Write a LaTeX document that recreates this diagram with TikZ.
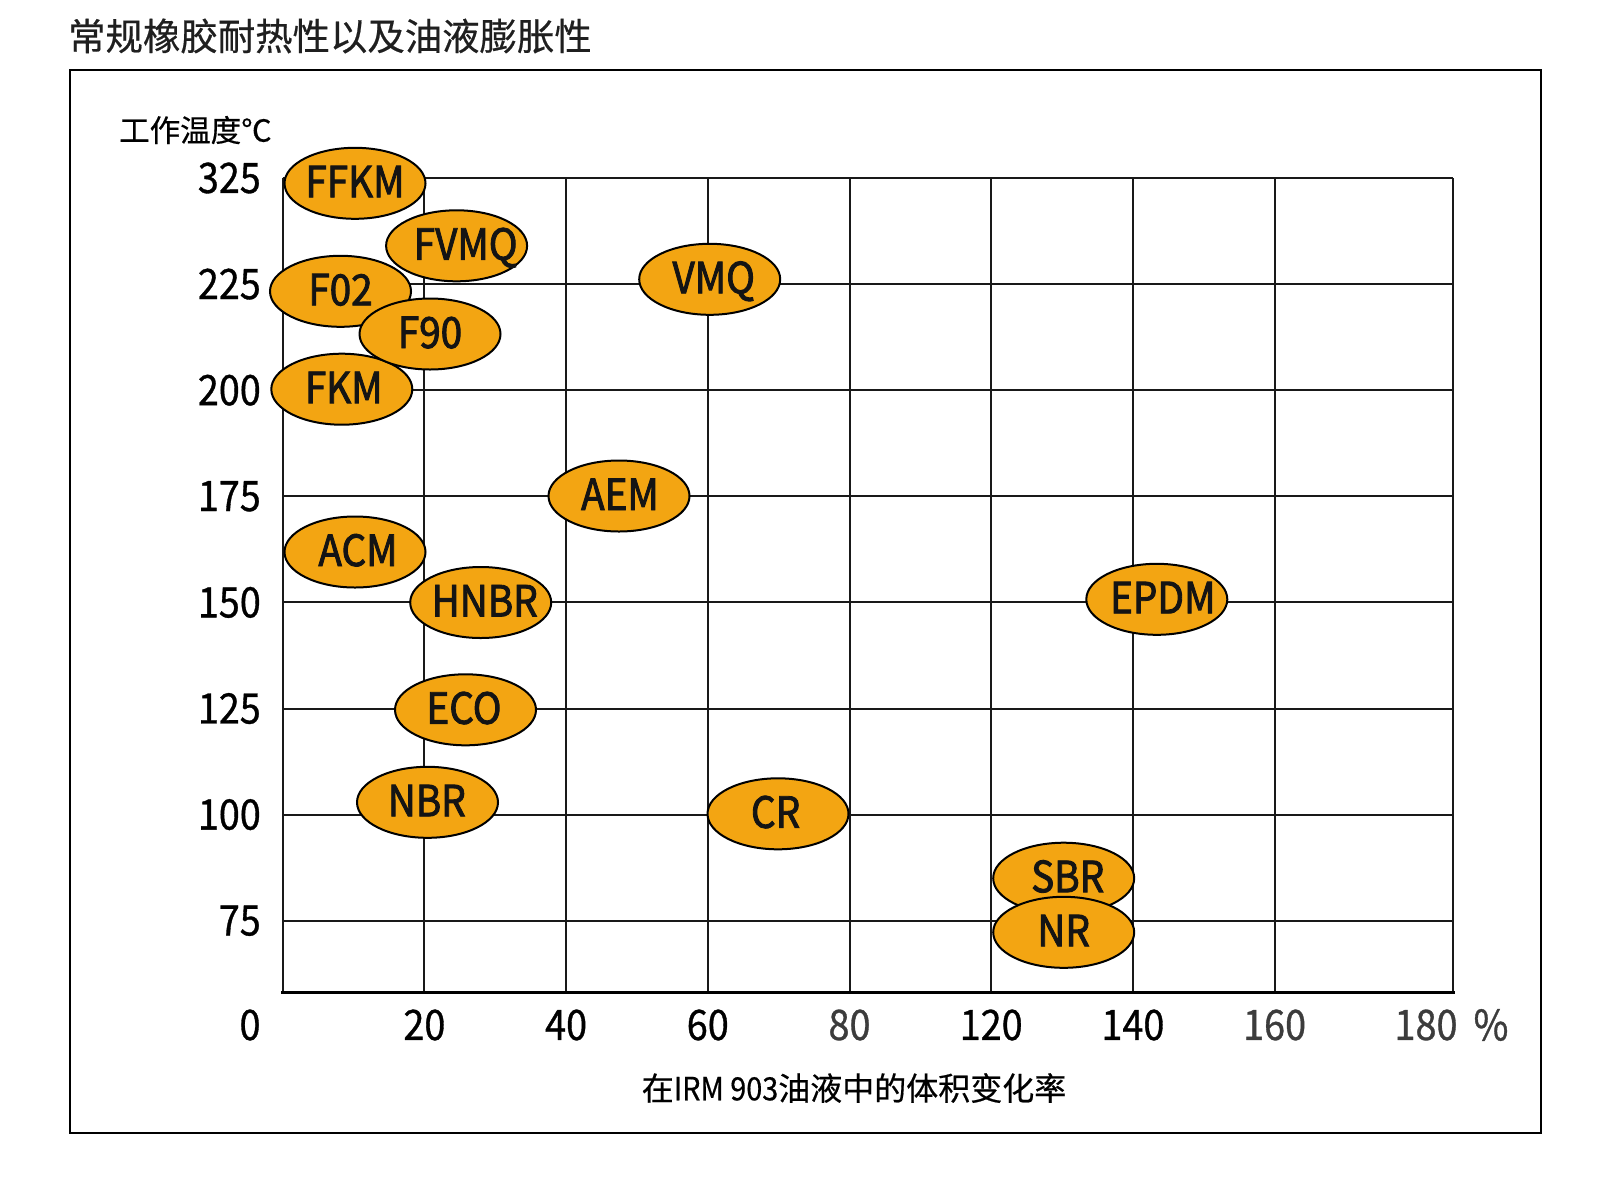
\documentclass[tikz,border=0pt]{standalone}
\usepackage{fontspec}
\setmainfont{Noto Sans CJK SC}
\newfontfamily\latn[FakeStretch=0.9,FakeBold=0.8]{Noto Sans CJK SC}
\newfontfamily\latb[FakeStretch=0.9,FakeBold=2]{Noto Sans CJK SC}
\newfontfamily\latx[FakeStretch=0.9,FakeBold=0.5]{Noto Sans CJK SC}
\newfontfamily\cjkb[FakeBold=0.5]{Noto Sans CJK SC}
\usetikzlibrary{shapes.geometric}
\definecolor{rubfill}{HTML}{F3A512}
\definecolor{tickgrey}{HTML}{3C3C3C}
\tikzset{
  rub/.style={ellipse, draw=black, line width=2pt, fill=rubfill,
    minimum width=141pt, minimum height=71pt, inner sep=0pt},
  rubtext/.style={inner sep=0pt, font=\latb\fontsize{43}{50}\selectfont, text=black!92},
  ticky/.style={anchor=east, inner sep=0pt, font=\latn\fontsize{42}{48}\selectfont},
  tickx/.style={anchor=center, inner sep=0pt, font=\latn\fontsize{42}{48}\selectfont},
  gridline/.style={line width=2pt, black!90},
}
\newcommand\rubber[5]{%
  \node[rub] (#1) at (#2,#3) {};
  \node[rubtext, anchor=base] (#1-t) at ([xshift=#5pt,yshift=-14pt]#1.center) {#4};
}
\begin{document}
\begin{tikzpicture}[x=1pt,y=-1pt]
\useasboundingbox (0,0) rectangle (1600,1200);
\fill[white] (0,0) rectangle (1600,1200);
% title
\node[anchor=west, inner sep=0pt, font=\cjkb\fontsize{37.4}{44}\selectfont, text=black!88] (title) at (68,36) {常规橡胶耐热性以及油液膨胀性};
% outer frame
\draw[line width=2.5pt] (70,70) rectangle (1541,1133);
% axis title
\node[anchor=west, inner sep=0pt, font=\cjkb\fontsize{30.5}{36}\selectfont] (ylab) at (119,130) {工作温度℃};
% grid
\foreach \i in {1,...,7} {
  \draw[gridline] ({282.7+\i*141.7},178) -- ({282.7+\i*141.7},992.7);
}
\foreach \j in {0,...,7} {
  \draw[gridline] (282.7,{178+\j*106.1}) -- (1453,{178+\j*106.1});
}
\draw[gridline] (282.7,178) -- (282.7,992.7);
\draw[gridline] (1453,178) -- (1453,992.7);
\draw[line width=3pt] (281.2,992.7) -- (1454.5,992.7);
% y tick labels
\node[ticky] (y325) at (261,178) {325};
\node[ticky] (y225) at (261,284.1) {225};
\node[ticky] (y200) at (261,390.2) {200};
\node[ticky] (y175) at (261,496.3) {175};
\node[ticky] (y150) at (261,602.4) {150};
\node[ticky] (y125) at (261,708.5) {125};
\node[ticky] (y100) at (261,814.6) {100};
\node[ticky] (y75) at (261,920.7) {75};
% x tick labels
\node[tickx] (x0) at (250,1025) {0};
\node[tickx] (x20) at (424.4,1025) {20};
\node[tickx] (x40) at (566.1,1025) {40};
\node[tickx] (x60) at (707.8,1025) {60};
\node[tickx, text=tickgrey] (x80) at (849.5,1025) {80};
\node[tickx] (x120) at (991.2,1025) {120};
\node[tickx] (x140) at (1132.9,1025) {140};
\node[tickx, text=tickgrey] (x160) at (1274.6,1025) {160};
\node[tickx, text=tickgrey] (x180) at (1426,1025) {180};
\node[tickx, text=tickgrey] (xpct) at (1491,1025) {\%};
% x axis title
\node[inner sep=0pt, font=\cjkb\fontsize{32}{38}\selectfont] (xlab) at (854,1088) {在{\latx IRM 903}油液中的体积变化率};
% rubbers
\rubber{ffkm}{355}{183.3}{FFKM}{0}
\rubber{fvmq}{456.6}{245.8}{FVMQ}{9}
\rubber{f02}{340.5}{291.3}{F02}{0}
\rubber{fkm}{341.8}{389.2}{FKM}{2}
\rubber{f90}{430}{334}{F90}{0}
\rubber{vmq}{709.7}{279.3}{VMQ}{4}
\rubber{aem}{619}{496}{AEM}{1}
\rubber{acm}{355}{552}{ACM}{3}
\rubber{hnbr}{480.7}{602.5}{HNBR}{4}
\rubber{epdm}{1156.8}{599.3}{EPDM}{6}
\rubber{eco}{465.5}{709.8}{ECO}{-1.5}
\rubber{nbr}{427.5}{802.3}{NBR}{-0.7}
\rubber{cr}{778}{813.8}{CR}{-2.4}
\rubber{sbr}{1063.7}{878.2}{SBR}{4}
\rubber{nr}{1063.7}{932.3}{NR}{0}
\end{tikzpicture}
\end{document}
